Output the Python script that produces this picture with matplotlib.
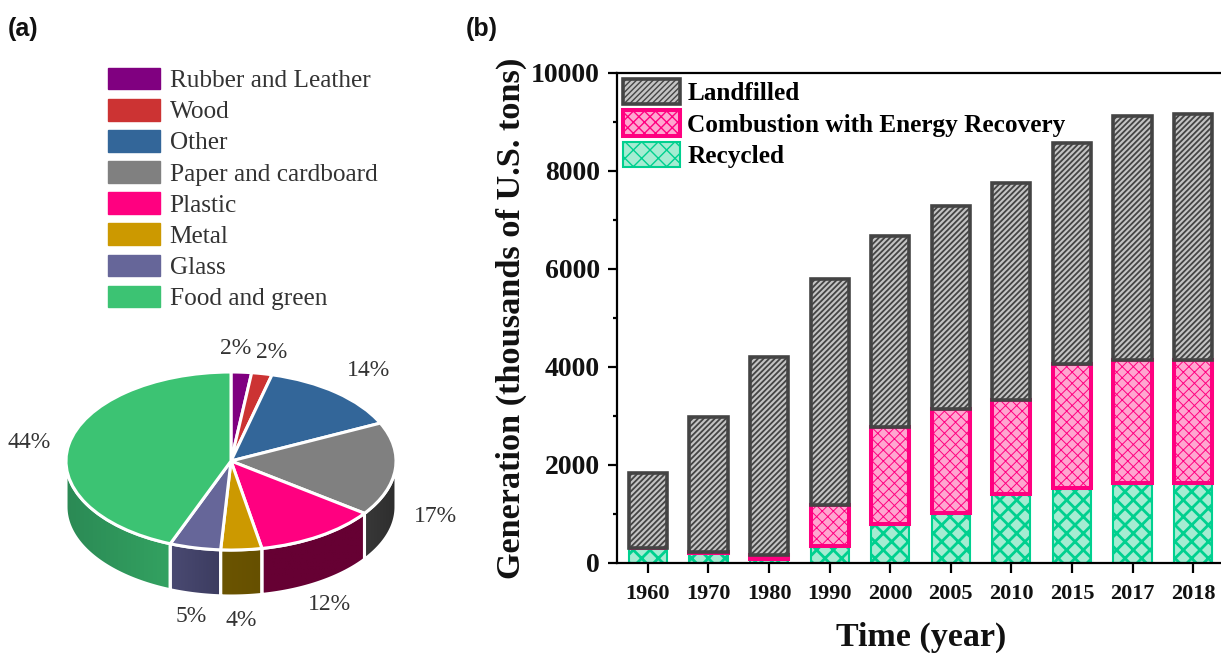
# Waste composition pie (a) and generation by management route (b)
import numpy as np
import matplotlib
matplotlib.use("Agg")
import matplotlib.pyplot as plt
from matplotlib.colors import to_rgb
from matplotlib.patches import Patch, Polygon
from matplotlib.ticker import MultipleLocator

W, H = 1221, 653

# pie data
materials = ["Rubber and Leather", "Wood", "Other", "Paper and cardboard",
             "Plastic", "Metal", "Glass", "Food and green"]
shares = [2, 2, 14, 17, 12, 4, 5, 44]
share_labels = ["2%", "2%", "14%", "17%", "12%", "4%", "5%", "44%"]
top_colors = ["#800080", "#cc3333", "#336699", "#808080",
              "#ff0080", "#cc9900", "#666699", "#3cc373"]
side_from = ["#660066", "#992626", "#264d73", "#383838",
             "#660033", "#6b5400", "#4a4a72", "#33a261"]
side_to = ["#660066", "#992626", "#264d73", "#2e2e2e",
           "#660033", "#665000", "#3c3c60", "#2b8a55"]

# bar data
years = ["1960", "1970", "1980", "1990", "2000", "2005", "2010", "2015", "2017", "2018"]
recycled = [300, 200, 80, 340, 790, 1020, 1400, 1530, 1640, 1640]
combustion = [0, 30, 90, 850, 1980, 2130, 1930, 2530, 2510, 2510]
landfilled = [1540, 2750, 4030, 4600, 3900, 4140, 4420, 4510, 4970, 5020]

plt.rcParams["font.family"] = ["Liberation Serif", "DejaVu Serif"]
plt.rcParams["hatch.linewidth"] = 1.0


def axes_box(x0, y0, x1, y1):
    # pixel box (from top left) to figure fractions
    return [x0 / W, 1 - y1 / H, (x1 - x0) / W, (y1 - y0) / H]


def fig_text(x, y, s, **kw):
    fig.text(x / W, 1 - y / H, s, ha=kw.pop("ha", "center"), va=kw.pop("va", "center"), **kw)


fig = plt.figure(figsize=(W / 100, H / 100), dpi=100)

fig_text(8, 29, "(a)", ha="left", family="Liberation Sans", weight="bold", fontsize=18, color="#111111")
fig_text(466, 29, "(b)", ha="left", family="Liberation Sans", weight="bold", fontsize=18, color="#111111")

# ---- panel (a) ----
depth = 46 / 89
ax1 = fig.add_axes(axes_box(66, 372, 396, 596))
wedges, _ = ax1.pie(shares, colors=top_colors, startangle=90, counterclock=False,
                    wedgeprops={"edgecolor": "white", "linewidth": 2.2, "zorder": 3})
ax1.set_box_aspect(None)
ax1.set_aspect("auto")

# side wall of the front half, one piece per slice
edges = np.cumsum([0] + shares) / sum(shares) * 2 * np.pi
for i in range(len(shares)):
    a0 = max(edges[i], np.pi / 2)
    a1 = min(edges[i + 1], 3 * np.pi / 2)
    if a1 <= a0:
        continue
    arc = np.linspace(a0, a1, 60)
    xs, ys = np.sin(arc), np.cos(arc)
    outline = np.vstack([np.c_[xs, ys], np.c_[xs[::-1], ys[::-1] - depth]])
    grad = np.linspace(to_rgb(side_from[i]), to_rgb(side_to[i]), 64)[None, :, :]
    if i == 7:
        grad = grad[:, ::-1, :]
    img = ax1.imshow(grad, extent=[xs.min(), xs.max(), -1 - depth, 1], aspect="auto", zorder=1)
    wall = Polygon(outline, closed=True, facecolor="none", edgecolor="white", linewidth=2.2, zorder=2)
    ax1.add_patch(wall)
    img.set_clip_path(wall)

ax1.set_xlim(-1, 1)
ax1.set_ylim(-1 - depth, 1)
ax1.axis("off")

label_spots = [(236, 349), (272, 352), (369, 371), (435, 516),
               (329, 604), (241, 620), (191, 617), (29, 443)]
for (lx, ly), txt in zip(label_spots, share_labels):
    fig_text(lx, ly, txt, fontsize=17, color="#333333")

pie_handles = [Patch(facecolor=c, edgecolor=c) for c in top_colors]
fig.legend(pie_handles, materials, loc="upper left", bbox_to_anchor=(103 / W, 1 - 62.5 / H),
           frameon=False, fontsize=18.2, labelcolor="#333333", handlelength=2.05, handleheight=0.95,
           handletextpad=0.39, labelspacing=0.26, borderpad=0.2, borderaxespad=0)

# ---- panel (b) ----
ax2 = fig.add_axes(axes_box(617, 73, 1221, 563))
pos = np.arange(len(years))
rec = np.array(recycled)
com = np.array(combustion)
lan = np.array(landfilled)

bar_w = 0.63
dark = "#444444"
pink = "#ff0080"
green = "#00d08f"

rec_style = dict(facecolor="#a5ecd2", edgecolor=green, hatch="xx", linewidth=1.5)
com_style = dict(facecolor="#ffa6d0", edgecolor=pink, hatch="xxx", linewidth=2.9)
lan_style = dict(facecolor="#c4c4c4", edgecolor=dark, hatch="//////", linewidth=2.6)

bars_r = ax2.bar(pos, rec, bar_w, zorder=2, **rec_style)
bars_c = ax2.bar(pos, com, bar_w, bottom=rec, zorder=3, **com_style)
bars_l = ax2.bar(pos, lan, bar_w, bottom=rec + com, zorder=4, **lan_style)

bar_handles = [Patch(**lan_style), Patch(**com_style), Patch(**rec_style)]

# thicker hatch lines on the green and grey parts where matplotlib allows it
hatch_widths = [(list(bars_r) + [bar_handles[2]], 2.0),
                (list(bars_l) + [bar_handles[0]], 1.3),
                (list(bars_c) + [bar_handles[1]], 0.7)]
for group, hw in hatch_widths:
    for p in group:
        if hasattr(p, "set_hatch_linewidth"):
            p.set_hatch_linewidth(hw)

ax2.set_xlim(-0.51, 9.46)
ax2.set_ylim(0, 10000)
ax2.set_xticks(pos)
ax2.set_xticklabels(years, fontsize=16, weight="bold", color="#111111")
ax2.yaxis.set_major_locator(MultipleLocator(2000))
ax2.yaxis.set_minor_locator(MultipleLocator(1000))
ax2.tick_params(axis="y", labelsize=20, length=6.5, width=1.6, pad=6, labelcolor="#111111")
ax2.tick_params(axis="y", which="minor", length=3, width=1.6)
ax2.tick_params(axis="x", length=7, width=1.6, pad=8)
for lab in ax2.get_yticklabels():
    lab.set_fontweight("bold")
ax2.spines["right"].set_visible(False)
for side in ["left", "top", "bottom"]:
    ax2.spines[side].set_linewidth(1.6)

fig_text(921, 637, "Time (year)", fontsize=24.5, weight="bold", color="#111111")
fig_text(511, 318, "Generation (thousands of U.S. tons)", fontsize=24.7, weight="bold",
         rotation=90, color="#111111")

ax2.legend(bar_handles, ["Landfilled", "Combustion with Energy Recovery", "Recycled"],
           loc="upper left", bbox_to_anchor=(6 / 604, 0.988), frameon=False,
           prop={"weight": "bold", "size": 18.2}, handlelength=2.25, handleheight=1.18,
           handletextpad=0.3, labelspacing=0.2, borderpad=0, borderaxespad=0)

fig.savefig("out.png", dpi=100)
